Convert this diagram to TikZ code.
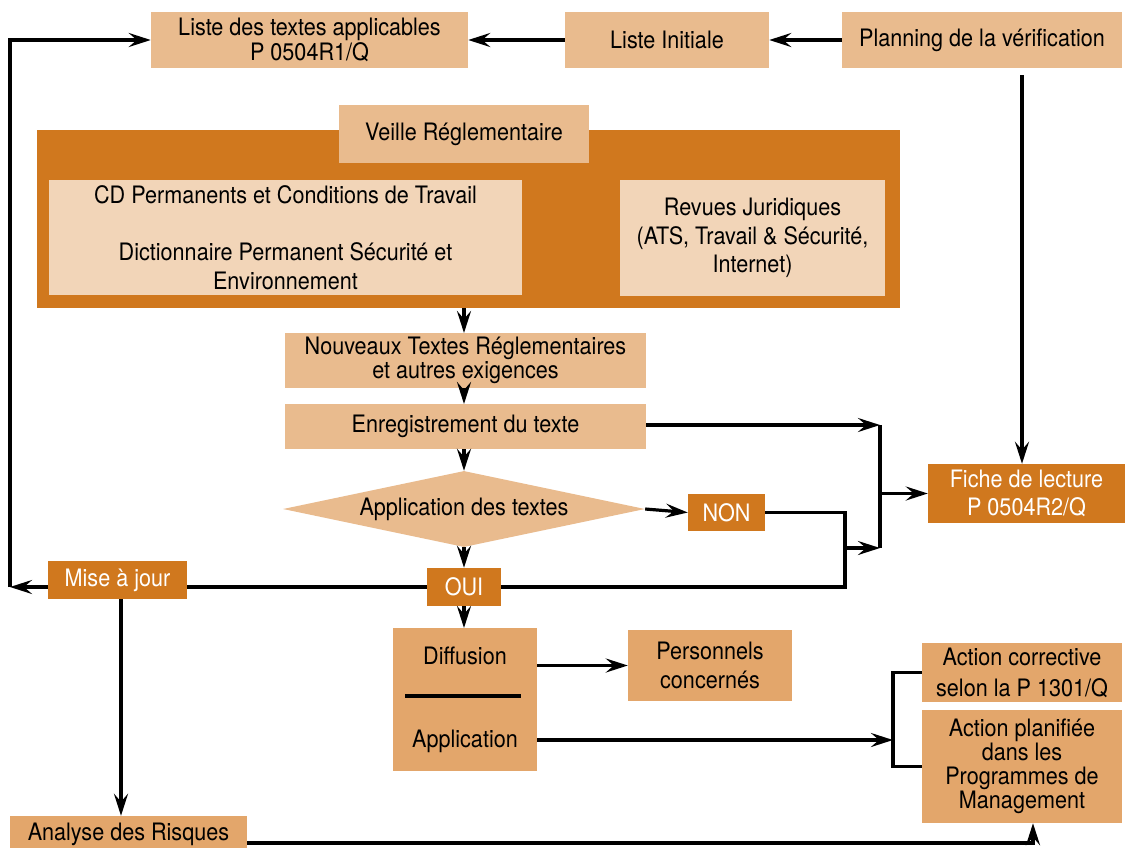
\documentclass[tikz,border=0pt]{standalone}
\usepackage{fontspec}
\setmainfont[FakeStretch=0.9]{TeX Gyre Heros}
\usetikzlibrary{arrows.meta,shapes.geometric}
\definecolor{tan}{HTML}{E9BB8E}
\definecolor{midor}{HTML}{E3A66B}
\definecolor{darkor}{HTML}{D0781E}
\definecolor{pale}{HTML}{F2D5B8}
\tikzset{
  box/.style={rectangle, inner sep=0pt, align=center, font=\fontsize{24}{25}\selectfont},
  wbox/.style={box, text=white},
  arr/.style={-{Stealth[length=22pt,width=14pt,inset=8pt]}},
  ln/.style={line width=3.2pt, black},
}
\begin{document}
\begin{tikzpicture}[x=1pt,y=-1pt]
\useasboundingbox (0,0) rectangle (1125,847);
% top row
\node[box, fill=tan, minimum width=317pt, minimum height=56pt] (lta) at (309.5,40) {Liste des textes applicables\\P 0504R1/Q};
\node[box, fill=tan, minimum width=204pt, minimum height=56pt] (lini) at (667,40) {Liste Initiale};
\node[box, fill=tan, minimum width=280pt, minimum height=56pt] (plan) at (982,40) {Planning de la vérification};
% veille block
\node[box, fill=darkor, minimum width=863pt, minimum height=178pt] (big) at (468.5,219) {};
\node[box, fill=tan, minimum width=250pt, minimum height=58pt] (veil) at (464,134) {Veille Réglementaire};
\node[box, fill=pale, minimum width=473pt, minimum height=115pt, font=\fontsize{24}{28.5}\selectfont] (cd) at (285.5,237.5) {CD Permanents et Conditions de Travail\\[28.5pt]Dictionnaire Permanent Sécurité et\\Environnement};
\node[box, fill=pale, minimum width=265pt, minimum height=116pt, font=\fontsize{24}{28.5}\selectfont] (rev) at (752.5,238) {Revues Juridiques\\(ATS, Travail \& Sécurité,\\Internet)};
% middle column
\node[box, fill=tan, minimum width=361pt, minimum height=55pt, font=\fontsize{24}{24}\selectfont] (nouv) at (465.5,360.5) {Nouveaux Textes Réglementaires\\et autres exigences};
\node[box, fill=tan, minimum width=361pt, minimum height=45pt] (enr) at (465.5,426.5) {Enregistrement du texte};
\node[diamond, fill=tan, inner sep=0pt, shape aspect=4.76, minimum width=362pt, minimum height=76pt, font=\fontsize{24}{25}\selectfont] (dia) at (464,509) {Application des textes};
\node[wbox, fill=darkor, minimum width=77pt, minimum height=37pt] (non) at (726.5,512.5) {NON};
\node[wbox, fill=darkor, minimum width=74pt, minimum height=38pt] (oui) at (464,587) {OUI};
\node[wbox, fill=darkor, minimum width=139pt, minimum height=38pt] (mise) at (117.5,580) {Mise à jour};
\node[box, fill=midor, minimum width=144pt, minimum height=143pt] (diff) at (465,699.5) {};
\node[box] (difft) at (465,656) {Diffusion};
\node[box] (applt) at (465,741) {Application};
\draw[ln] (405,696) -- (521,696);
\node[box, fill=midor, minimum width=164pt, minimum height=71pt, font=\fontsize{24}{29}\selectfont] (pers) at (710,665.5) {Personnels\\concernés};
% right column
\node[wbox, fill=darkor, minimum width=197pt, minimum height=59pt, font=\fontsize{24}{28}\selectfont] (fiche) at (1026.5,493.5) {Fiche de lecture\\P 0504R2/Q};
\node[box, fill=midor, minimum width=200pt, minimum height=59pt, font=\fontsize{24}{31}\selectfont] (acor) at (1022,672.5) {Action corrective\\selon la P 1301/Q};
\node[box, fill=midor, minimum width=200pt, minimum height=113pt, font=\fontsize{24}{24}\selectfont] (apl) at (1022,766.5) {Action planifiée\\dans les\\Programmes de\\Management};
\node[box, fill=midor, minimum width=237pt, minimum height=36pt] (ana) at (128.5,834) {Analyse des Risques};
% junction coordinates
\coordinate (cl) at (10,587);
\coordinate (ct) at (10,40);
\coordinate (jn) at (845,548);
\coordinate (jr) at (880,548);
\coordinate (jt) at (880,425);
\coordinate (jm) at (880,493.5);
\coordinate (jb) at (893,740);
\coordinate (pv) at (1022,75);
% connectors
\draw[ln, arr] (plan.west) -- (lini.east);
\draw[ln, arr] (lini.west) -- (lta.east);
\draw[ln, arr] (pv) -- (pv |- fiche.north);
\draw[ln, arr] (464,308) -- (464,333);
\draw[ln, arr] (464,388) -- (464,404);
\draw[ln, arr] (464,449) -- (dia.north);
\draw[ln, arr] (dia.east) -- (non.west);
\draw[ln, arr] (dia.south) -- (oui.north);
\draw[ln, arr] (oui.south) -- (464,628);
\draw[ln] (oui.west) -- (oui.west -| mise.east);
\draw[ln, arr] (cl -| mise.west) -- (cl);
\draw[ln, arr] (cl) -- (ct) -- (lta.west |- ct);
\draw[ln] (non.east) -| (jn) |- (oui.east);
\draw[ln, arr] (jn) -- (jr);
\draw[ln, arr] (enr.east |- jt) -- (jt);
\draw[ln] (jt) -- (jr);
\draw[ln, arr] (jm) -- (fiche.west);
\draw[ln, arr] (diff.east |- pers.west) -- (pers.west);
\draw[ln, arr] (diff.east |- jb) -- (jb);
\draw[ln] (acor.west) -| (jb) |- (apl.west);
\draw[ln, arr] ([xshift=3.5pt]mise.south) -- ([xshift=3.5pt]mise.south |- ana.north);
\draw[ln, arr] (ana.east |- 0,843) -| ([xshift=11pt]apl.south);
\end{tikzpicture}
\end{document}
